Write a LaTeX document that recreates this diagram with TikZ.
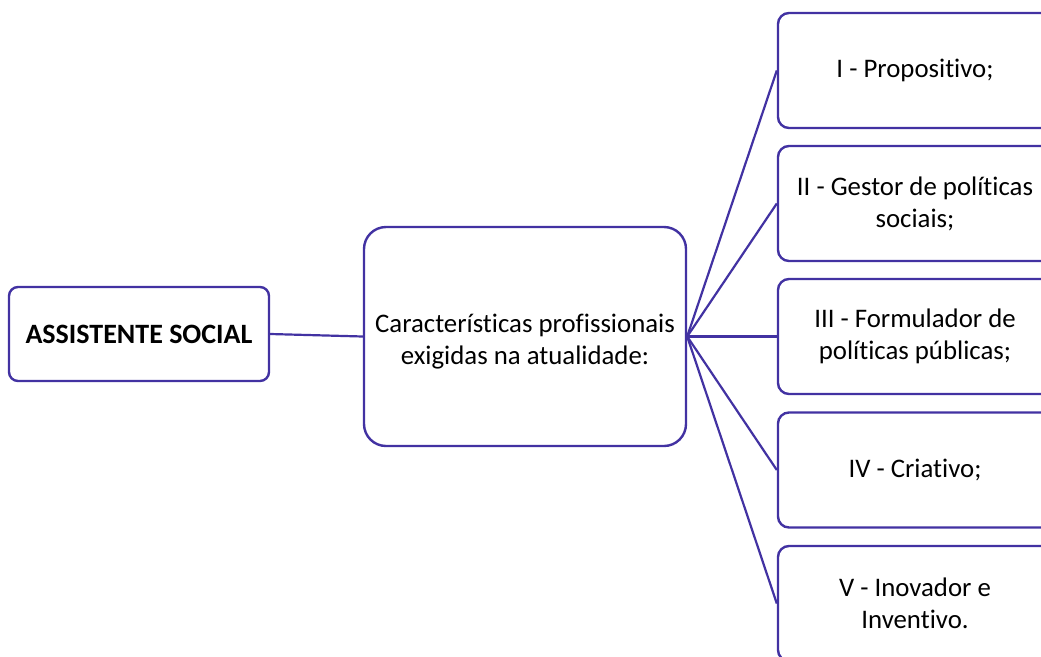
\documentclass[tikz,border=0pt]{standalone}
\usepackage{fontspec}
\setmainfont[Ligatures=NoCommon]{Carlito}
\definecolor{linecol}{RGB}{66,50,162}
\begin{document}
\begin{tikzpicture}[x=1pt,y=-1pt,
  box/.style={draw=linecol, line width=2.4pt, fill=white, align=center, inner sep=0pt},
  conn/.style={draw=linecol, line width=2.2pt},
  txt/.style={font=\fontsize{26.8}{32}\selectfont}]
\useasboundingbox (0,0) rectangle (1041,656);
\clip (0,0) rectangle (1041,656);
\node[box, rounded corners=9pt, minimum width=260pt, minimum height=94pt, font=\fontsize{28}{33}\selectfont\bfseries] (A) at (139,334) {ASSISTENTE SOCIAL};
\node[draw=linecol, line width=2.4pt, fill=white, inner sep=0pt, txt, rounded corners=22pt, minimum width=322pt, minimum height=219pt] (B) at (525,336.5) {\raisebox{-6pt}[\height][\depth]{\begin{tabular}{@{}c@{}}Características profissionais\\exigidas na atualidade:\end{tabular}}};
\foreach \n/\y/\t in {R1/70.5/{I - Propositivo;}, R2/203.5/{II - Gestor de políticas\\sociais;}, R3/336.5/{III - Formulador de\\políticas públicas;}, R4/470/{IV - Criativo;}, R5/603.5/{V - Inovador e\\Inventivo.}}{
  \node[box, txt, rounded corners=11pt, minimum width=274pt, minimum height=115pt] (\n) at (915,\y) {\t};
}
\draw[conn] (A.east) -- (B.west);
\foreach \n in {R1,R2,R3,R4,R5}{
  \draw[conn] (B.east) -- (\n.west);
}
\end{tikzpicture}
\end{document}
